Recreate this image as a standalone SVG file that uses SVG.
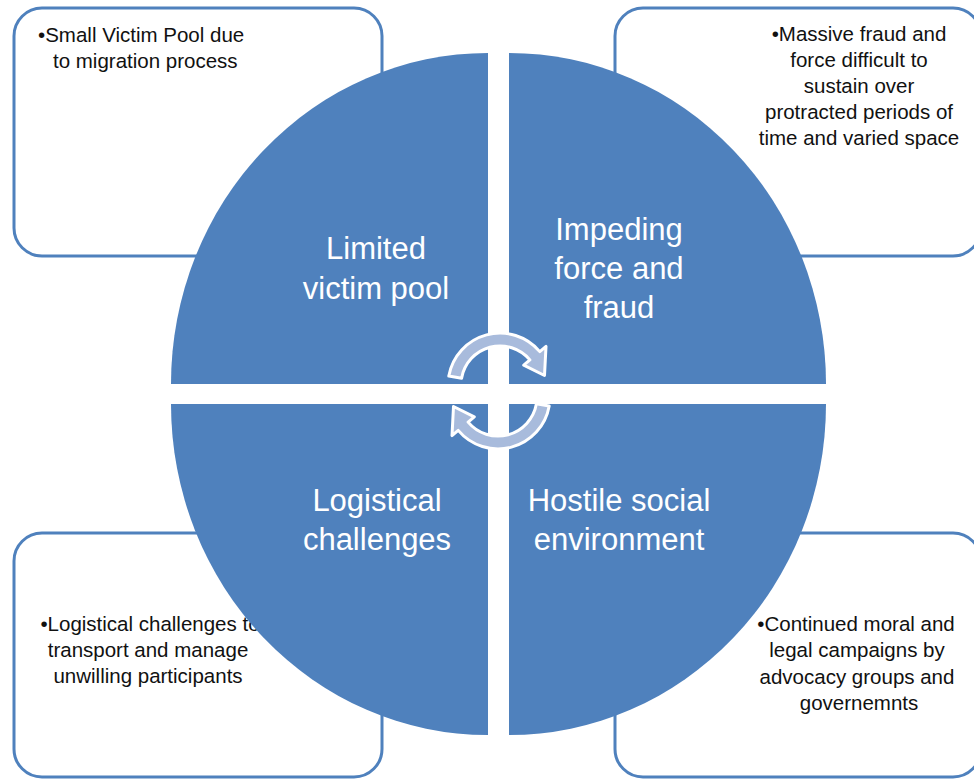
<svg xmlns="http://www.w3.org/2000/svg" width="974" height="780" viewBox="0 0 974 780">
  <style>
    .box{fill:#ffffff;stroke:#4F81BD;stroke-width:3}
    .quad{fill:#4F81BD}
    .btxt{font-family:"Liberation Sans",Arial,sans-serif;font-size:20.5px;fill:#111111}
    .ltxt{font-family:"Liberation Sans",Arial,sans-serif;font-size:31px;fill:#ffffff;text-anchor:middle}
    .arr{fill:#A8BBDC;stroke:#ffffff;stroke-width:3;stroke-linejoin:round}
  </style>
  <defs>
    <path id="carrow" d="M448.8 376 A52 52 0 0 1 539.8 351.6 L546 346.4 L544.5 375.5 L523.7 365.1 L529.9 359.9 A39 39 0 0 0 461.6 378.2 Z"/>
  </defs>
  <rect width="974" height="780" fill="#ffffff"/>

  <g id="box-top-left">
    <rect class="box" x="14" y="8" width="368" height="248" rx="28"/>
    <text class="btxt" x="38" y="42">•Small Victim Pool due</text>
    <text class="btxt" x="53" y="68">to migration process</text>
  </g>
  <g id="box-top-right">
    <rect class="box" x="615" y="8" width="366" height="248" rx="28"/>
    <text class="btxt" text-anchor="middle" x="859" y="41">•Massive fraud and</text>
    <text class="btxt" text-anchor="middle" x="859" y="67">force difficult to</text>
    <text class="btxt" text-anchor="middle" x="859" y="93">sustain over</text>
    <text class="btxt" text-anchor="middle" x="859" y="119">protracted periods of</text>
    <text class="btxt" text-anchor="middle" x="859" y="145">time and varied space</text>
  </g>
  <g id="box-bottom-left">
    <rect class="box" x="14" y="533" width="368" height="244" rx="28"/>
    <text class="btxt" text-anchor="middle" x="150" y="631">•Logistical challenges to</text>
    <text class="btxt" text-anchor="middle" x="148" y="657">transport and manage</text>
    <text class="btxt" text-anchor="middle" x="148" y="683">unwilling participants</text>
  </g>
  <g id="box-bottom-right">
    <rect class="box" x="615" y="533" width="366" height="244" rx="28"/>
    <text class="btxt" text-anchor="middle" x="856" y="631">•Continued moral and</text>
    <text class="btxt" text-anchor="middle" x="857" y="657">legal campaigns by</text>
    <text class="btxt" text-anchor="middle" x="857" y="684">advocacy groups and</text>
    <text class="btxt" text-anchor="middle" x="859" y="710">governemnts</text>
  </g>

  <g id="quad-limited-victim-pool">
    <path class="quad" d="M488 384 L171 384 A317 331 0 0 1 488 53 Z"/>
    <text class="ltxt" x="376" y="259">Limited</text>
    <text class="ltxt" x="376" y="299">victim pool</text>
  </g>
  <g id="quad-impeding-force">
    <path class="quad" d="M509 384 L509 53 A317 331 0 0 1 826 384 Z"/>
    <text class="ltxt" x="619" y="240">Impeding</text>
    <text class="ltxt" x="619" y="279">force and</text>
    <text class="ltxt" x="619" y="318">fraud</text>
  </g>
  <g id="quad-logistical">
    <path class="quad" d="M488 404 L488 735 A317 331 0 0 1 171 404 Z"/>
    <text class="ltxt" x="377" y="511">Logistical</text>
    <text class="ltxt" x="377" y="550">challenges</text>
  </g>
  <g id="quad-hostile">
    <path class="quad" d="M509 404 L826 404 A317 331 0 0 1 509 735 Z"/>
    <text class="ltxt" x="619" y="511">Hostile social</text>
    <text class="ltxt" x="619" y="550">environment</text>
  </g>

  <g id="connectors">
    <use href="#carrow" class="arr"/>
    <use href="#carrow" class="arr" transform="rotate(180 499 391)"/>
  </g>
</svg>
